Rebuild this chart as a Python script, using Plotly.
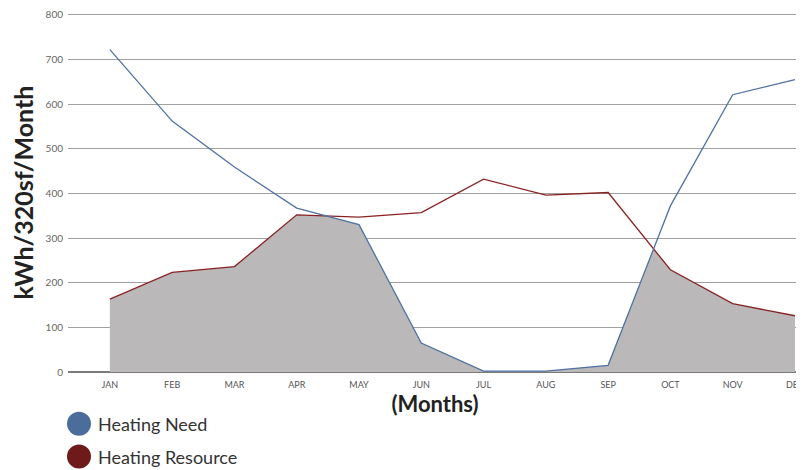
import plotly.graph_objects as go

months = ["JAN", "FEB", "MAR", "APR", "MAY", "JUN", "JUL", "AUG", "SEP", "OCT", "NOV", "DEC"]
heating_need = [722, 562, 459, 367, 330, 65, 2, 2, 15, 372, 621, 655]
heating_resource = [163, 223, 236, 352, 347, 357, 432, 396, 402, 229, 153, 126]
y_ticks = [0, 100, 200, 300, 400, 500, 600, 700, 800]

xs = list(range(len(months)))

# shared (overlap) area = min of both series, with crossing points
env_x, env_y = [], []
for i in range(len(xs)):
    env_x.append(xs[i])
    env_y.append(min(heating_need[i], heating_resource[i]))
    if i < len(xs) - 1:
        d0 = heating_need[i] - heating_resource[i]
        d1 = heating_need[i + 1] - heating_resource[i + 1]
        if d0 * d1 < 0:
            t = d0 / (d0 - d1)
            env_x.append(xs[i] + t)
            env_y.append(heating_need[i] + t * (heating_need[i + 1] - heating_need[i]))

BLUE = "#4f72a2"
RED = "#8a2222"

fig = go.Figure()
fig.add_trace(go.Scatter(x=env_x, y=env_y, mode="lines", fill="tozeroy",
                         fillcolor="#bab8b9", line=dict(width=0), hoverinfo="skip",
                         showlegend=False))
fig.add_trace(go.Scatter(x=xs, y=heating_resource, mode="lines", name="Heating Resource",
                         line=dict(color=RED, width=1.3), showlegend=False))
fig.add_trace(go.Scatter(x=xs, y=heating_need, mode="lines", name="Heating Need",
                         line=dict(color=BLUE, width=1.3), showlegend=False))

# page body has an 8px margin; figure is sized/offset to compensate
fig.update_layout(
    width=796, height=462,
    margin=dict(l=60, r=0, t=3, b=98),
    plot_bgcolor="white", paper_bgcolor="white",
    font=dict(family="Lato", color="#555"),
    xaxis=dict(
        range=[-0.6725, 11.113], tickmode="array", tickvals=xs, ticktext=months,
        showgrid=False, zeroline=False, showline=False,
        ticks="outside", ticklen=4, tickcolor="rgba(0,0,0,0)",
        ticklabeloverflow="allow",
        tickfont=dict(size=9, color="#555", family="Lato"),
        title=dict(text="<b>(Months)</b>", font=dict(size=22, color="#222", family="Lato"), standoff=2),
    ),
    yaxis=dict(
        range=[0, 804], tickmode="array", tickvals=y_ticks,
        showgrid=True, gridcolor="#a0a0a0", gridwidth=1,
        zeroline=True, zerolinecolor="#7a7a7a", zerolinewidth=1.5,
        showline=False, ticks="", ticklabelstandoff=4,
        ticklabeloverflow="allow",
        tickfont=dict(size=10, color="#666", family="Lato"),
        title=dict(text="<b>kWh/320sf/Month</b>", font=dict(size=25, color="#222", family="Lato"), standoff=10),
    ),
)

legend_items = [("Heating Need", "#4a6d9b", 424), ("Heating Resource", "#6e1a1a", 457)]
for label, color, py in legend_items:
    yc = (364 - (py - 8)) / 361
    fig.add_shape(type="circle", xref="paper", yref="paper",
                  xsizemode="pixel", ysizemode="pixel",
                  xanchor=0, yanchor=yc,
                  x0=-1, x1=23, y0=-12, y1=12,
                  fillcolor=color, line=dict(width=0))
    fig.add_annotation(xref="paper", yref="paper", x=(96 - 68) / 736, y=yc,
                       xanchor="left", yanchor="middle", showarrow=False,
                       text=label, font=dict(size=18, color="#333", family="Lato"))

fig.write_html("out.html")
